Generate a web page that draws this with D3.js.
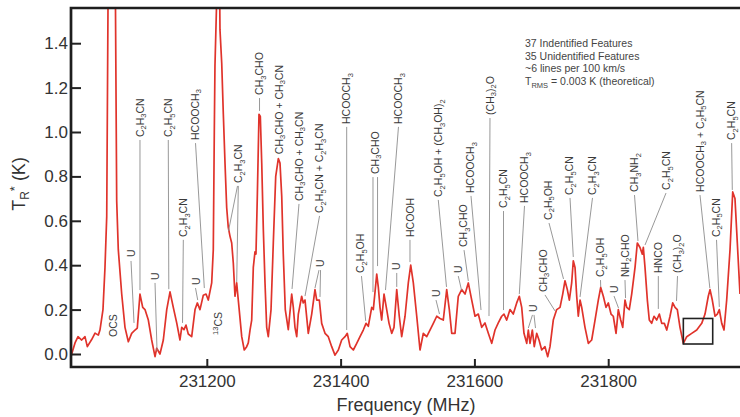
<!DOCTYPE html>
<html>
<head>
<meta charset="utf-8">
<script src="https://cdn.jsdelivr.net/npm/d3@7"></script>
<style>
  html, body { margin: 0; padding: 0; background: #fff; }
  svg { display: block; font-family: "Liberation Sans", Arial, Helvetica, sans-serif; }
</style>
</head>
<body>
<svg id="chart" width="740" height="417"></svg>
<script>
// Observed spectrum: frequency (MHz) and antenna temperature T_R* (K)
const freqMHz = [
  230997.0, 231003.0, 231007.5, 231013.0, 231017.9, 231021.4, 231027.9, 231032.9, 231037.8, 231040.3,
  231044.8, 231047.8, 231050.4, 231052.3, 231055.3, 231057.5, 231059.8, 231063.5, 231065.3, 231067.7,
  231072.8, 231077.7, 231082.7, 231087.7, 231092.7, 231096.1, 231100.1, 231104.2, 231107.6, 231112.6,
  231117.6, 231122.6, 231125.1, 231130.0, 231135.0, 231140.1, 231145.0, 231149.9, 231155.0, 231159.9,
  231162.5, 231165.9, 231168.9, 231172.3, 231177.4, 231182.4, 231185.8, 231189.8, 231194.8, 231198.8,
  231202.2, 231207.3, 231209.7, 231211.2, 231212.2, 231214.8, 231217.2, 231219.0, 231219.7, 231222.3,
  231224.7, 231227.2, 231229.7, 231232.1, 231234.7, 231237.2, 231239.6, 231242.1, 231244.7, 231246.2,
  231248.1, 231252.2, 231256.0, 231259.6, 231262.0, 231264.6, 231267.1, 231269.5, 231272.0, 231273.5,
  231275.5, 231278.0, 231280.0, 231282.1, 231284.5, 231287.0, 231289.5, 231291.9, 231296.0, 231299.4,
  231303.0, 231306.9, 231309.4, 231312.0, 231314.3, 231317.3, 231321.8, 231326.9, 231329.3, 231331.8,
  231334.4, 231336.8, 231341.8, 231344.2, 231346.8, 231351.7, 231356.8, 231361.7, 231364.3, 231368.2,
  231371.7, 231376.7, 231381.6, 231386.7, 231391.6, 231396.6, 231401.6, 231406.6, 231410.0, 231414.1,
  231419.0, 231424.1, 231429.0, 231433.9, 231438.0, 231441.4, 231446.5, 231448.9, 231454.0, 231456.4,
  231458.9, 231461.4, 231464.9, 231468.9, 231472.4, 231476.4, 231479.8, 231483.9, 231487.7, 231491.3,
  231496.3, 231501.2, 231504.8, 231508.7, 231513.8, 231518.7, 231523.6, 231528.7, 231533.6, 231538.6,
  231543.7, 231548.6, 231553.5, 231558.6, 231562.5, 231566.1, 231571.0, 231575.9, 231581.0, 231586.0,
  231590.9, 231596.0, 231600.9, 231605.8, 231610.9, 231615.8, 231620.8, 231625.9, 231630.8, 231635.7,
  231640.8, 231644.2, 231648.3, 231653.2, 231658.1, 231663.2, 231667.1, 231670.7, 231674.1, 231678.2,
  231680.6, 231683.1, 231686.6, 231689.5, 231693.1, 231696.6, 231700.6, 231705.5, 231709.6, 231713.0,
  231717.9, 231723.0, 231728.0, 231732.0, 231735.4, 231738.9, 231741.9, 231745.4, 231747.8, 231750.4,
  231752.9, 231755.3, 231757.9, 231760.4, 231765.3, 231770.3, 231775.3, 231780.3, 231785.2, 231788.8,
  231792.7, 231796.7, 231800.2, 231804.2, 231807.6, 231811.7, 231815.1, 231818.7, 231821.7, 231825.1,
  231827.7, 231831.5, 231835.1, 231840.1, 231843.5, 231847.5, 231851.0, 231852.5, 231855.0, 231858.5,
  231861.4, 231865.0, 231868.5, 231872.5, 231876.4, 231880.0, 231883.9, 231887.5, 231892.4, 231896.4,
  231899.9, 231903.3, 231907.3, 231912.3, 231917.4, 231924.8, 231932.3, 231939.8, 231944.7, 231949.6,
  231952.2, 231955.6, 231959.7, 231963.1, 231966.1, 231969.7, 231973.1, 231977.1, 231982.1, 231986.1,
  231989.5, 231993.0, 231997.0
];
const tempK = [
  -0.01, 0.05, 0.078, 0.063, 0.078, 0.033, 0.065, 0.094, 0.085, 0.108,
  0.20, 0.39, 0.62, 1.56, 2.4, 2.6, 2.4, 1.56, 0.69, 0.47,
  0.27, 0.12, 0.055, 0.093, 0.108, 0.117, 0.27, 0.21, 0.20, 0.153,
  0.063, -0.012, 0.026, 0.0, 0.063, 0.20, 0.28, 0.21, 0.14, 0.063,
  0.12, 0.11, 0.13, 0.09, 0.078, 0.20, 0.23, 0.20, 0.265, 0.27,
  0.243, 0.32, 0.47, 1.0, 1.3, 1.6, 1.9, 1.7, 1.46, 1.31,
  1.08, 0.86, 0.66, 0.57, 0.53, 0.50, 0.41, 0.26, 0.32, 0.27,
  0.21, 0.078, 0.018, 0.033, 0.05, 0.108, 0.153, 0.39, 0.46, 0.45,
  0.71, 1.08, 1.07, 0.86, 0.56, 0.32, 0.12, 0.078, 0.20, 0.50,
  0.80, 0.88, 0.86, 0.71, 0.45, 0.20, 0.11, 0.27, 0.21, 0.12,
  0.078, 0.18, 0.26, 0.23, 0.243, 0.093, 0.18, 0.29, 0.243, 0.243,
  0.138, 0.093, 0.078, 0.033, -0.005, 0.018, 0.063, 0.078, 0.093, 0.033,
  0.018, 0.048, 0.078, 0.108, 0.138, 0.125, 0.21, 0.20, 0.36, 0.30,
  0.21, 0.153, 0.27, 0.20, 0.138, 0.093, 0.12, 0.29, 0.17, 0.078,
  0.17, 0.32, 0.40, 0.32, 0.17, 0.018, 0.093, 0.078, 0.108, 0.138,
  0.17, 0.16, 0.153, 0.29, 0.20, 0.093, 0.093, 0.26, 0.29, 0.27,
  0.32, 0.243, 0.17, 0.18, 0.12, 0.14, 0.093, 0.048, 0.108, 0.14,
  0.17, 0.18, 0.153, 0.20, 0.18, 0.23, 0.26, 0.21, 0.093, 0.048,
  0.108, 0.048, 0.108, 0.033, 0.093, 0.063, 0.018, 0.033, -0.012, 0.033,
  0.153, 0.20, 0.21, 0.27, 0.33, 0.29, 0.243, 0.32, 0.42, 0.39,
  0.26, 0.17, 0.243, 0.21, 0.12, 0.048, 0.063, 0.153, 0.243, 0.30,
  0.26, 0.21, 0.23, 0.18, 0.17, 0.093, 0.20, 0.153, 0.12, 0.243,
  0.21, 0.20, 0.27, 0.39, 0.50, 0.48, 0.45, 0.48, 0.39, 0.243,
  0.153, 0.138, 0.17, 0.153, 0.18, 0.138, 0.138, 0.108, 0.17, 0.23,
  0.21, 0.20, 0.12, 0.048, 0.078, 0.093, 0.108, 0.138, 0.18, 0.26,
  0.29, 0.243, 0.17, 0.18, 0.20, 0.138, 0.108, 0.243, 0.47, 0.73,
  0.70, 0.50, 0.27
];

const xTicks = [231200, 231400, 231600, 231800];
const yTicks = [0.0, 0.2, 0.4, 0.6, 0.8, 1.0, 1.2, 1.4];

// Line identifications: [species, frequency of label (MHz), T_R* at label foot (K)]
const lineLabels = [
  ["OCS", 231060.2, 0.077],
  ["U", 231086.7, 0.437],
  ["C2H3CN", 231100.1, 0.977],
  ["U", 231122.6, 0.333],
  ["C2H5CN", 231142.4, 0.977],
  ["C2H3CN", 231164.9, 0.527],
  ["HCOOCH3", 231182.4, 0.964],
  ["U", 231184.0, 0.311],
  ["C2H3CN", 231247.1, 0.770],
  ["13CS", 231217.2, 0.086],
  ["CH3CHO", 231278.8, 1.167],
  ["CH3CHO + CH3CN", 231307.9, 0.900],
  ["CH3CHO + CH3CN", 231337.8, 0.689],
  ["C2H5CN + C2H3CN", 231368.5, 0.635],
  ["U", 231369.2, 0.392],
  ["HCOOCH3", 231409.1, 1.036],
  ["CH3CHO", 231451.4, 0.811],
  ["HCOOCH3", 231486.5, 1.036],
  ["C2H5OH", 231430.0, 0.365],
  ["U", 231483.9, 0.378],
  ["HCOOH", 231503.7, 0.527],
  ["U", 231542.6, 0.257],
  ["C2H5OH + (CH3OH)2", 231546.0, 0.707],
  ["U", 231575.9, 0.365],
  ["CH3CHO", 231583.7, 0.482],
  ["HCOOCH3", 231594.2, 0.725],
  ["(CH3)2O", 231623.3, 1.077],
  ["C2H5CN", 231643.5, 0.658],
  ["HCOOCH3", 231674.9, 0.680],
  ["U", 231688.0, 0.189],
  ["CH3CHO", 231702.5, 0.279],
  ["C2H5OH", 231710.0, 0.604],
  ["C2H5CN", 231742.2, 0.716],
  ["C2H3CN", 231776.5, 0.716],
  ["C2H5OH", 231788.5, 0.347],
  ["U", 231808.7, 0.275],
  ["NH2CHO", 231825.1, 0.347],
  ["CH3NH2", 231839.3, 0.730],
  ["C2H5CN", 231887.1, 0.739],
  ["HNCO", 231874.9, 0.365],
  ["(CH3)2O", 231903.6, 0.365],
  ["HCOOCH3 + C2H5CN", 231937.2, 0.730],
  ["C2H5CN", 231961.2, 0.527],
  ["C2H5CN", 231983.9, 0.964]
];

// Leader lines from label to feature: [f0 (MHz), T0 (K), f1 (MHz), T1 (K)]
const leaderLines = [
  [231086.7, 0.419, 231091.2, 0.140],
  [231100.1, 0.964, 231100.1, 0.288],
  [231122.6, 0.320, 231125.6, 0.014],
  [231142.4, 0.964, 231143.2, 0.292],
  [231164.9, 0.514, 231163.7, 0.140],
  [231183.1, 0.950, 231196.3, 0.297],
  [231183.1, 0.297, 231186.4, 0.243],
  [231245.9, 0.757, 231232.4, 0.554],
  [231247.1, 0.757, 231244.7, 0.324],
  [231278.8, 1.153, 231278.8, 1.095],
  [231337.8, 0.676, 231327.4, 0.293],
  [231368.5, 0.622, 231346.8, 0.261],
  [231367.7, 0.378, 231361.7, 0.297],
  [231370.0, 0.378, 231369.2, 0.257],
  [231409.1, 1.023, 231409.1, 0.108],
  [231448.4, 0.797, 231448.4, 0.279],
  [231455.2, 0.797, 231455.2, 0.396],
  [231486.5, 1.023, 231467.1, 0.288],
  [231431.2, 0.351, 231437.5, 0.149],
  [231483.9, 0.365, 231483.9, 0.302],
  [231503.7, 0.514, 231503.7, 0.414],
  [231542.6, 0.243, 231547.8, 0.180],
  [231546.0, 0.694, 231558.3, 0.302],
  [231575.9, 0.351, 231580.7, 0.288],
  [231584.5, 0.468, 231590.9, 0.329],
  [231594.9, 0.712, 231609.9, 0.198],
  [231623.3, 1.063, 231621.8, 0.171],
  [231643.5, 0.644, 231643.5, 0.198],
  [231674.9, 0.667, 231667.1, 0.270],
  [231686.8, 0.176, 231680.6, 0.117],
  [231689.1, 0.176, 231691.3, 0.117],
  [231705.5, 0.266, 231720.5, 0.194],
  [231711.5, 0.590, 231733.2, 0.338],
  [231742.9, 0.703, 231747.8, 0.437],
  [231776.5, 0.703, 231757.9, 0.257],
  [231788.5, 0.333, 231788.8, 0.302],
  [231808.7, 0.261, 231815.4, 0.207],
  [231825.1, 0.333, 231825.9, 0.252],
  [231839.3, 0.716, 231844.5, 0.509],
  [231886.4, 0.725, 231855.0, 0.491],
  [231874.9, 0.351, 231874.9, 0.203],
  [231903.6, 0.351, 231902.1, 0.239],
  [231937.2, 0.716, 231951.9, 0.297],
  [231961.9, 0.514, 231966.1, 0.212],
  [231984.5, 0.950, 231985.5, 0.739]
];

// Highlighted window: [f start, f end, T low, T high]
const boxRegion = [231912.3, 231956.2, 0.045, 0.160];

const notes = [
  "37 Indentified Features",
  "35 Unidentified Features",
  "~6 lines per 100 km/s"
];

// ---- layout ----
const svg = d3.select("#chart");
const X0 = 71, X1 = 740, Y0 = 8, Y1 = 367;

const x = d3.scaleLinear().domain([230997, 231997]).range([X0, X1]);
const y = d3.scaleLinear().domain([-0.0586, 1.5586]).range([Y1, Y0]);

svg.append("defs").append("clipPath").attr("id", "plotClip")
  .append("rect").attr("x", X0).attr("y", Y0).attr("width", X1 - X0).attr("height", Y1 - Y0);

// Formula text: digits after a letter or ')' are subscripts, leading digits are superscripts
function addFormula(textSel, str, fs) {
  const runs = [];
  for (let i = 0; i < str.length; i++) {
    const c = str[i];
    let type = "n";
    if (/\d/.test(c)) {
      let j = i; while (j > 0 && /\d/.test(str[j - 1])) j--;
      if (j === 0) type = "sup";
      else if (/[A-Za-z)]/.test(str[j - 1])) type = "sub";
    }
    if (runs.length && runs[runs.length - 1].type === type) runs[runs.length - 1].s += c;
    else runs.push({ type, s: c });
  }
  let cur = 0;
  runs.forEach(r => {
    const target = r.type === "sub" ? 0.26 * fs : r.type === "sup" ? -0.38 * fs : 0;
    textSel.append("tspan")
      .attr("dy", (target - cur).toFixed(2))
      .attr("font-size", r.type === "n" ? fs : fs * 0.72)
      .text(r.s);
    cur = target;
  });
}

// spectrum
const line = d3.line().x(d => x(d[0])).y(d => y(d[1]));
const spectrum = freqMHz.map((f, i) => [f, tempK[i]]);
svg.append("path")
  .datum(spectrum)
  .attr("clip-path", "url(#plotClip)")
  .attr("fill", "none")
  .attr("stroke", "#e0332b")
  .attr("stroke-width", 1.7)
  .attr("stroke-linejoin", "round")
  .attr("d", line);

// leader lines
svg.append("g").selectAll("line").data(leaderLines).join("line")
  .attr("x1", d => x(d[0])).attr("y1", d => y(d[1]))
  .attr("x2", d => x(d[2])).attr("y2", d => y(d[3]))
  .attr("stroke", "#8c8c8c").attr("stroke-width", 0.9);

// species labels, rotated to read upward
const labelFs = 10.5;
const lg = svg.append("g").attr("fill", "#3a3a3a");
lineLabels.forEach(([name, f, t]) => {
  const tx = lg.append("text")
    .attr("transform", `translate(${x(f).toFixed(1)},${y(t).toFixed(1)}) rotate(-90)`)
    .attr("x", 0).attr("y", (0.34 * labelFs).toFixed(2))
    .attr("text-anchor", "start")
    .attr("font-size", labelFs);
  addFormula(tx, name, labelFs);
});

// highlighted window
svg.append("rect")
  .attr("x", x(boxRegion[0])).attr("y", y(boxRegion[3]))
  .attr("width", x(boxRegion[1]) - x(boxRegion[0]))
  .attr("height", y(boxRegion[2]) - y(boxRegion[3]))
  .attr("fill", "none").attr("stroke", "#222").attr("stroke-width", 1.6);

// axes with inward ticks
const yAxis = d3.axisLeft(y).tickValues(yTicks).tickFormat(d3.format(".1f"))
  .tickSize(-10).tickPadding(3);
const gy = svg.append("g").attr("transform", `translate(${X0},0)`).call(yAxis);
const xAxis = d3.axisBottom(x).tickValues(xTicks).tickFormat(d3.format("d"))
  .tickSize(-8).tickPadding(8);
const gx = svg.append("g").attr("transform", `translate(0,${Y1})`).call(xAxis);
[gx, gy].forEach(g => {
  g.select(".domain").remove();
  g.selectAll(".tick line").attr("stroke", "#222").attr("stroke-width", 2);
  g.selectAll(".tick text").attr("fill", "#333").attr("font-size", 17)
    .attr("font-family", '"Liberation Sans", Arial, sans-serif');
});

// frame (left, top, bottom)
svg.append("path")
  .attr("d", `M${X1},${Y0}H${X0}V${Y1}H${X1}`)
  .attr("fill", "none").attr("stroke", "#1e1e1e").attr("stroke-width", 2.7);

// axis titles
svg.append("text")
  .attr("x", (X0 + X1) / 2 + 0.5).attr("y", 411)
  .attr("text-anchor", "middle").attr("font-size", 18).attr("fill", "#333")
  .text("Frequency (MHz)");

const yt = svg.append("text")
  .attr("transform", "translate(25,184) rotate(-90)")
  .attr("text-anchor", "middle").attr("font-size", 18).attr("fill", "#333");
yt.append("tspan").text("T");
yt.append("tspan").attr("font-size", 12).attr("dy", 4).text("R");
yt.append("tspan").attr("font-size", 13).attr("dy", -10).text("*");
yt.append("tspan").attr("dy", 6).text(" (K)");

// summary notes
const ng = svg.append("g").attr("font-size", 10.5).attr("fill", "#444");
notes.forEach((s, i) => {
  ng.append("text").attr("x", 525).attr("y", 47 + i * 12.7).text(s);
});
const rms = ng.append("text").attr("x", 525).attr("y", 47 + 3 * 12.7);
rms.append("tspan").text("T");
rms.append("tspan").attr("font-size", 7.5).attr("dy", 3).text("RMS");
rms.append("tspan").attr("dy", -3).text(" = 0.003 K (theoretical)");
</script>
</body>
</html>
